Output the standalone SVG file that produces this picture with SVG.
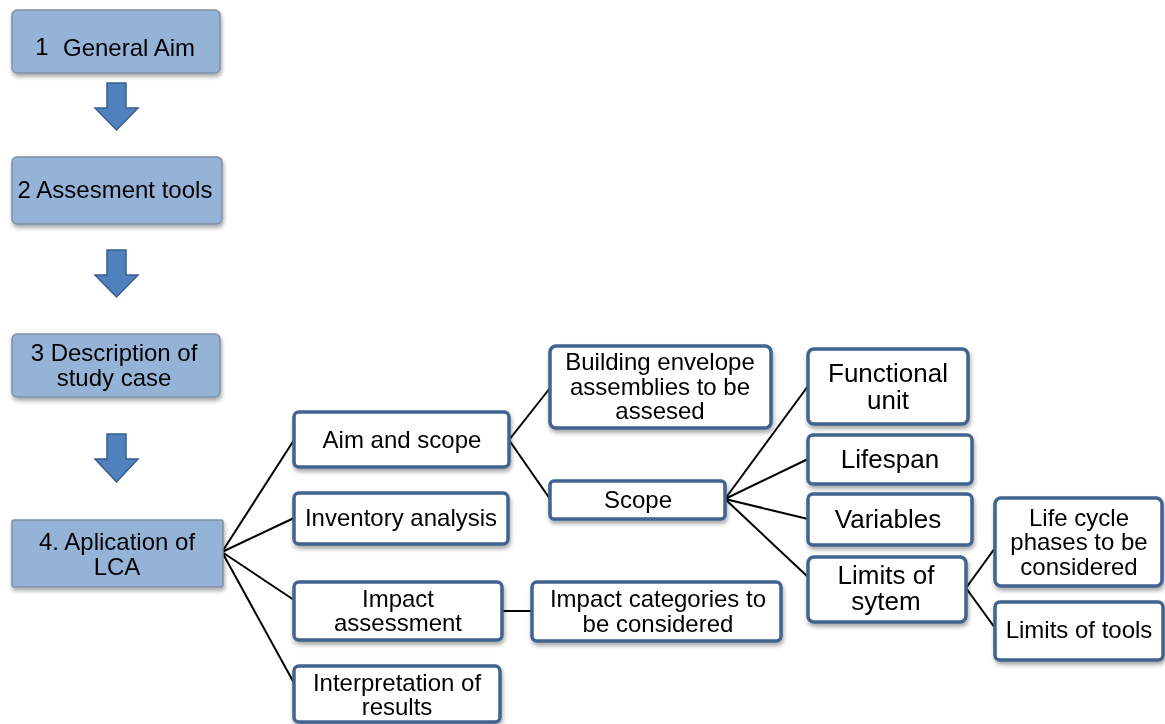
<svg xmlns="http://www.w3.org/2000/svg" width="1165" height="724" viewBox="0 0 1165 724">
<style>
.blue{fill:#95b3d7;stroke:#7f8fa4;stroke-width:1.5}
.wbox{fill:#ffffff;stroke:#3f6390;stroke-width:3.5}
.t{font-family:"Liberation Sans",Arial,sans-serif;fill:#000;text-anchor:middle;dominant-baseline:central;font-size:24px}
.b{font-size:26px}
.arr{fill:#4f81bd;stroke:#385d8a;stroke-width:1.5}
.con line{stroke:#000;stroke-width:2}
</style>
<defs>
<filter id="sh" x="-10%" y="-10%" width="125%" height="135%">
<feDropShadow dx="1" dy="3" stdDeviation="2" flood-color="#000" flood-opacity="0.35"/>
</filter>
</defs>
<rect width="1165" height="724" fill="#fff"/>
<g id="arrows">
<polygon class="arr" points="107,83 126,83 126,108 138,108 116.5,130 95,108 107,108"/>
<polygon class="arr" points="107,250 126,250 126,275 138,275 116.5,297 95,275 107,275"/>
<polygon class="arr" points="107,434 126,434 126,459 138,459 116.5,482 95,459 107,459"/>
</g>
<g class="con" id="connectors">
<line x1="222" y1="552" x2="294" y2="440"/>
<line x1="222" y1="552" x2="294" y2="518"/>
<line x1="222" y1="552" x2="294" y2="600"/>
<line x1="222" y1="552" x2="294" y2="683"/>
<line x1="509" y1="440" x2="550" y2="388"/>
<line x1="509" y1="440" x2="550" y2="499"/>
<line x1="502" y1="611" x2="531" y2="611"/>
<line x1="725" y1="499" x2="808" y2="386"/>
<line x1="725" y1="499" x2="808" y2="459"/>
<line x1="725" y1="499" x2="808" y2="519"/>
<line x1="725" y1="499" x2="808" y2="577"/>
<line x1="966" y1="588" x2="995" y2="548"/>
<line x1="966" y1="588" x2="995" y2="628"/>
</g>
<g id="n1" filter="url(#sh)"><rect class="blue" x="12" y="10" width="208" height="63" rx="5"/>
<text class="t" x="42" y="46" font-size="26px">1</text>
<text class="t" x="129" y="47">General Aim</text></g>
<g id="n2" filter="url(#sh)"><rect class="blue" x="12" y="157" width="210" height="67" rx="5"/>
<text class="t" x="115" y="189">2 Assesment tools</text></g>
<g id="n3" filter="url(#sh)"><rect class="blue" x="12" y="334" width="208" height="63" rx="5"/>
<text class="t" x="114" y="352">3 Description of</text>
<text class="t" x="114" y="377">study case</text></g>
<g id="n4" filter="url(#sh)"><rect class="blue" x="12" y="520" width="211" height="67" rx="2"/>
<text class="t" x="117" y="541">4. Aplication of</text>
<text class="t" x="117" y="566">LCA</text></g>
<g id="aim" filter="url(#sh)"><rect class="wbox" x="294" y="412" width="215" height="55" rx="5"/>
<text class="t" x="402" y="439">Aim and scope</text></g>
<g id="inv" filter="url(#sh)"><rect class="wbox" x="294" y="493" width="214" height="51" rx="5"/>
<text class="t" x="401" y="517">Inventory analysis</text></g>
<g id="impact" filter="url(#sh)"><rect class="wbox" x="294" y="582" width="208" height="58" rx="5"/>
<text class="t" x="398" y="598">Impact</text>
<text class="t" x="398" y="622">assessment</text></g>
<g id="interp" filter="url(#sh)"><rect class="wbox" x="294" y="666" width="206" height="56" rx="5"/>
<text class="t" x="397" y="682">Interpretation of</text>
<text class="t" x="397" y="706">results</text></g>
<g id="building" filter="url(#sh)"><rect class="wbox" x="550" y="346" width="221" height="82" rx="6"/>
<text class="t" x="660" y="361">Building envelope</text>
<text class="t" x="660" y="386">assemblies to be</text>
<text class="t" x="660" y="410">assesed</text></g>
<g id="scope" filter="url(#sh)"><rect class="wbox" x="550" y="481" width="175" height="38" rx="4"/>
<text class="t" x="638" y="499">Scope</text></g>
<g id="impcat" filter="url(#sh)"><rect class="wbox" x="532" y="582" width="249" height="59" rx="5"/>
<text class="t" x="658" y="598">Impact categories to</text>
<text class="t" x="658" y="623">be considered</text></g>
<g id="func" filter="url(#sh)"><rect class="wbox" x="808" y="349" width="160" height="75" rx="6"/>
<text class="t b" x="888" y="373">Functional</text>
<text class="t b" x="888" y="400">unit</text></g>
<g id="life" filter="url(#sh)"><rect class="wbox" x="808" y="435" width="164" height="49" rx="5"/>
<text class="t b" x="890" y="459">Lifespan</text></g>
<g id="var" filter="url(#sh)"><rect class="wbox" x="808" y="494" width="164" height="51" rx="5"/>
<text class="t b" x="888" y="519">Variables</text></g>
<g id="limsys" filter="url(#sh)"><rect class="wbox" x="808" y="557" width="158" height="65" rx="6"/>
<text class="t b" x="886" y="575">Limits of</text>
<text class="t b" x="886" y="601">sytem</text></g>
<g id="lifecycle" filter="url(#sh)"><rect class="wbox" x="995" y="498" width="167" height="88" rx="6"/>
<text class="t" x="1079" y="517">Life cycle</text>
<text class="t" x="1079" y="541">phases to be</text>
<text class="t" x="1079" y="566">considered</text></g>
<g id="limtools" filter="url(#sh)"><rect class="wbox" x="995" y="602" width="168" height="58" rx="5"/>
<text class="t" x="1079" y="629">Limits of tools</text></g>
</svg>
